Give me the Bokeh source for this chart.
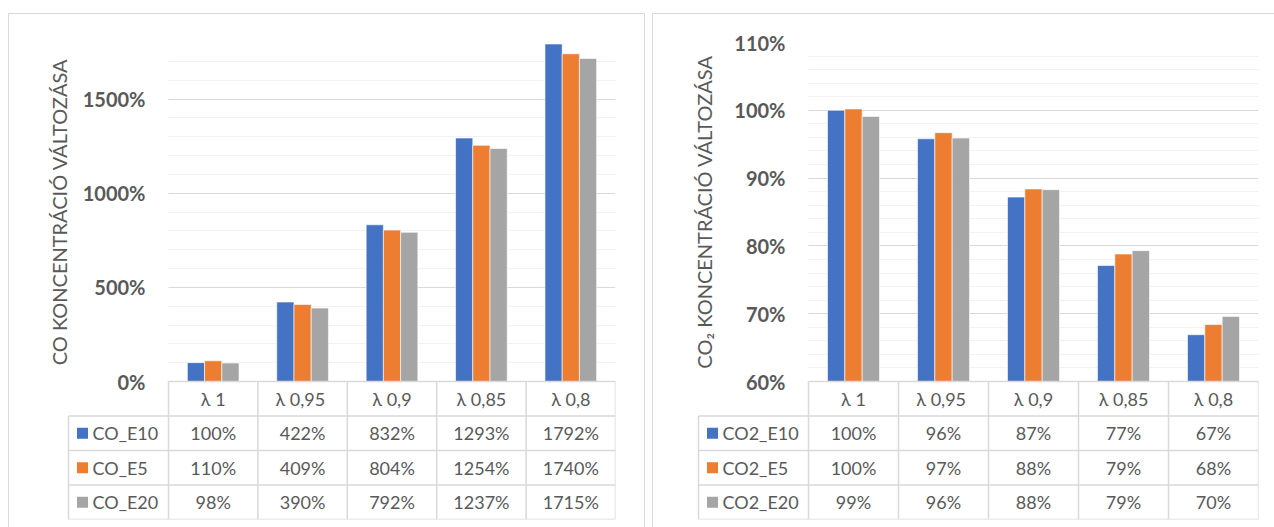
import numpy as np
from bokeh.plotting import figure
from bokeh.models import (Range1d, SingleIntervalTicker, PrintfTickFormatter, Spacer,
                          ColumnDataSource, Label)
from bokeh.layouts import row, column
from bokeh.transform import dodge
from bokeh.embed import file_html
from bokeh.resources import INLINE
from bokeh.core.properties import value

# ---- data -------------------------------------------------------------
categories = ["λ 1", "λ  0,95", "λ 0,9", "λ 0,85", "λ 0,8"]

co_series = ["CO_E10", "CO_E5", "CO_E20"]
co_e10 = [100, 422, 832, 1293, 1792]
co_e5 = [110, 409, 804, 1254, 1740]
co_e20 = [98, 390, 792, 1237, 1715]

co2_series = ["CO2_E10", "CO2_E5", "CO2_E20"]
co2_e10 = [100.0, 95.8, 87.2, 77.1, 66.9]
co2_e5 = [100.2, 96.7, 88.4, 78.8, 68.4]
co2_e20 = [99.1, 95.9, 88.3, 79.3, 69.6]

# ---- style ------------------------------------------------------------
COLORS = ["#4472C4", "#ED7D31", "#A5A5A5"]
TEXT = "#595959"
LINE = "#D9D9D9"
MINOR = "#F2F2F2"
FONT = "Lato"

BAR_W = 1 / (3 + 2.19)      # clustered columns, 219 % gap width
CHART_PX = 339              # height of the bar area
ROW_PX = 34.5               # height of one data-table row
N_ROWS = 4                  # header row + three series rows
TABLE_PX = N_ROWS * ROW_PX
BORDER_L = 5                # canvas margin left of the drawing frame


def build_panel(title, series, values, y_lo, y_hi, step, hdr_px, col_px,
                pad_px, right_px, title_dx):
    n = len(categories)
    hdr = hdr_px / col_px                      # row-header column, in category widths
    x_start = -(hdr_px + pad_px) / col_px      # room for value labels and title
    frame_w = pad_px + hdr_px + n * col_px
    frame_h = CHART_PX + TABLE_PX
    y_start = y_lo - (y_hi - y_lo) * TABLE_PX / CHART_PX

    p = figure(width=int(round(BORDER_L + frame_w + right_px)), height=513,
               x_range=Range1d(x_start, n), y_range=Range1d(y_start, y_hi),
               x_axis_location=None, y_axis_location="left",
               min_border_left=BORDER_L, min_border_right=right_px,
               min_border_top=28, min_border_bottom=8,
               output_backend="svg", toolbar_location=None,
               outline_line_color=None, background_fill_color="white",
               border_fill_color="white")
    p.extra_y_ranges = {"tbl": Range1d(-N_ROWS, -N_ROWS + frame_h / ROW_PX)}
    p.styles = {"outline": "1px solid #D9D9D9"}

    # value axis: labels sit just left of the columns, gridlines over the bar area only
    ax = p.yaxis[0]
    ax.ticker = SingleIntervalTicker(interval=step, num_minor_ticks=5)
    ax.formatter = PrintfTickFormatter(format="%d%%")
    ax.bounds = (y_lo, y_hi)
    ax.axis_line_color = None
    ax.major_tick_line_color = None
    ax.minor_tick_line_color = None
    ax.major_tick_out = 0
    ax.minor_tick_out = 0
    ax.major_tick_in = 0
    ax.minor_tick_in = 0
    ax.major_label_standoff = -int(round(pad_px + hdr_px - 23))
    ax.major_label_text_font = FONT
    ax.major_label_text_font_style = "bold"
    ax.major_label_text_font_size = "20px"
    ax.major_label_text_color = TEXT

    g = p.ygrid[0]
    g.grid_line_color = LINE
    g.minor_grid_line_color = MINOR
    g.cross_bounds = (0, n)
    p.xgrid.visible = False

    # axis title, centred on the value range of the bar area
    p.add_layout(Label(x=-hdr + title_dx / col_px, y=(y_lo + y_hi) / 2,
                       text=title, angle=np.pi / 2, text_align="center",
                       text_baseline="middle", text_font=FONT,
                       text_font_size="20px", text_color=TEXT))

    centers = np.arange(n) + 0.5
    src = ColumnDataSource(dict(x=centers, s0=values[0], s1=values[1], s2=values[2]))
    for j in range(3):
        p.vbar(x=dodge("x", (j - 1) * BAR_W, range=p.x_range), top=f"s{j}",
               bottom=y_lo, width=BAR_W, source=src,
               fill_color=COLORS[j], line_color="white", line_width=0.6)

    # data table under the columns
    tkw = dict(y_range_name="tbl", text_font=value(FONT), text_font_size="18px",
               text_color=TEXT, text_baseline="middle")
    p.text(x=centers, y=[-0.5] * n, text=categories, text_align="center", **tkw)
    for j, name in enumerate(series):
        yrow = -(j + 1.5)
        p.text(x=centers, y=[yrow] * n, text=[f"{v:.0f}%" for v in values[j]],
               text_align="center", **tkw)
        p.scatter(x=[-hdr + 14 / col_px], y=[yrow], marker="square", size=11,
                  fill_color=COLORS[j], line_color=None, y_range_name="tbl")
        p.text(x=[-hdr + 24 / col_px], y=[yrow], text=[name], text_align="left", **tkw)

    hx0 = [0, -hdr, -hdr, -hdr, -hdr]
    hy = [0, -1, -2, -3, -4]
    p.segment(x0=hx0, y0=hy, x1=[n] * 5, y1=hy, line_color=LINE, line_width=1.5,
              y_range_name="tbl")
    vx = list(range(n + 1)) + [-hdr]
    vy0 = [0] * (n + 1) + [-1]
    p.segment(x0=vx, y0=vy0, x1=vx, y1=[-N_ROWS] * len(vx), line_color=LINE,
              line_width=1.5, y_range_name="tbl")
    return p


# left panel: canvas starts at x=9, frame at 14, row headers at 68, columns at 168
p_co = build_panel("CO KONCENTRÁCIÓ VÁLTOZÁSA", co_series, [co_e10, co_e5, co_e20],
                   0, 1800, 500, 100, 89.4, 54, 29, -10)
# right panel: canvas starts at x=653, frame at 658, row headers at 698, columns at 808
p_co2 = build_panel("CO₂ KONCENTRÁCIÓ VÁLTOZÁSA", co2_series, [co2_e10, co2_e5, co2_e20],
                    60, 110, 10, 110, 90, 40, 16, 5)

layout = column(Spacer(height=14),
                row(Spacer(width=9), p_co, Spacer(width=9), p_co2))

with open("out.html", "w") as f:
    f.write(file_html(layout, INLINE))
